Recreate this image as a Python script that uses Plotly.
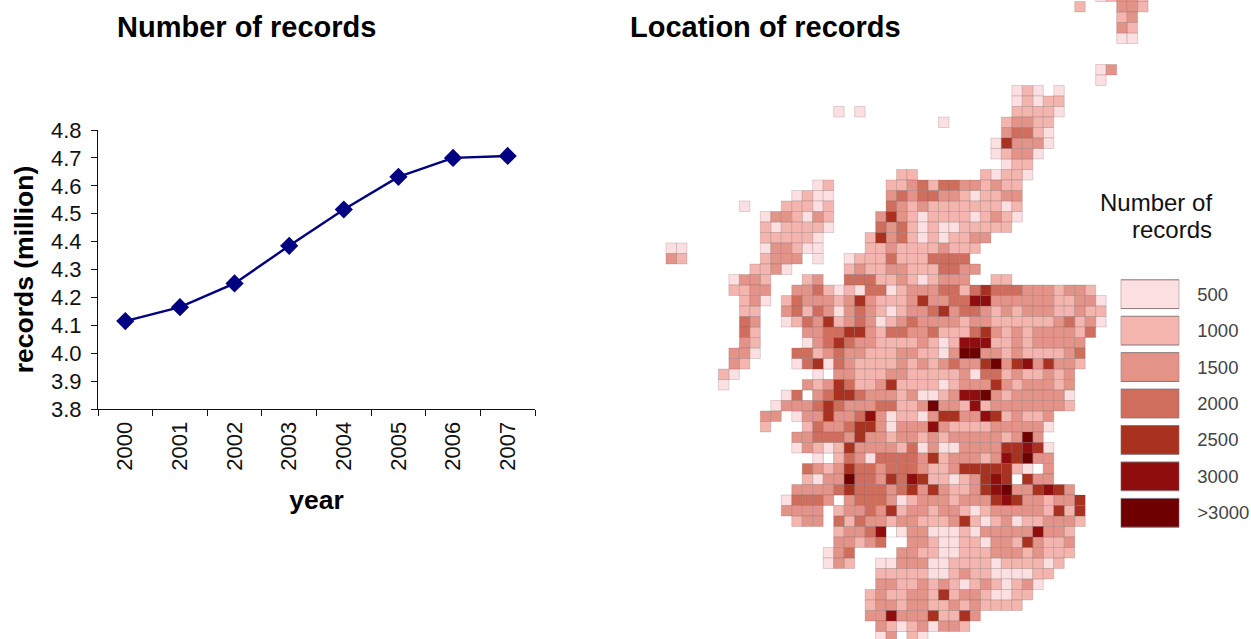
import plotly.graph_objects as go

W, H = 1251, 639
FONT = "Liberation Sans"

years = ["2000", "2001", "2002", "2003", "2004", "2005", "2006", "2007"]
records_million = [4.115, 4.165, 4.25, 4.385, 4.515, 4.632, 4.70, 4.707]

legend_labels = ["500", "1000", "1500", "2000", "2500", "3000", ">3000"]
level_colors = ["#ffffff", "#fcdfe1", "#f3b5ae", "#e39387", "#cf6e5d", "#a8321f", "#900d0e", "#6e0000"]

# (grid row, first grid column, class of each consecutive cell; 0 = white cell)
map_cells = [
    (-1, 41, "12332"), (0, 39, "2"), (0, 43, "332"), (1, 43, "23"), (2, 43, "32"), (3, 43, "11"),
    (6, 41, "13"), (7, 41, "1"), (8, 33, "121"), (8, 37, "1"), (9, 33, "12122"),
    (10, 16, "1"), (10, 18, "1"), (10, 33, "22221"), (11, 26, "1"), (11, 32, "23322"),
    (12, 32, "34421"), (13, 31, "153331"), (14, 31, "12331"), (15, 32, "122"),
    (16, 22, "22"), (16, 30, "21221"),
    (17, 14, "12"), (17, 21, "2234244332322"),
    (18, 12, "1211"), (18, 21, "3434433212233"),
    (19, 7, "1"), (19, 11, "22212"), (19, 21, "4323222222212"),
    (20, 9, "1332132"), (20, 20, "35321222212321"),
    (21, 9, "2122221"), (21, 20, "4342121122222"),
    (22, 9, "222221"), (22, 19, "253421212233"),
    (23, 0, "11"), (23, 9, "133211"), (23, 19, "22322223222"),
    (24, 0, "32"), (24, 9, "2333"), (24, 14, "1"), (24, 17, "122242224444"),
    (25, 8, "2231"), (25, 17, "2322332224433"),
    (26, 6, "1332"), (26, 13, "23"), (26, 17, "444223212333"), (26, 31, "22"),
    (27, 6, "2233"), (27, 12, "33421214412333442454443332332"),
    (28, 7, "231"), (28, 11, "2433323532" "2235334466" "33333322331"),
    (29, 7, "22"), (29, 11, "3424313432" "1233453443" "23233322322"),
    (30, 7, "43"), (30, 11, "1243523431" "2343333233" "22222234231"),
    (31, 7, "42"), (31, 13, "33445532" "4433422245" "3232333324"),
    (32, 7, "32"), (32, 13, "13454332" "2223212666" "223233333"),
    (33, 6, "331"), (33, 12, "442343322" "2332213773" "323222234"),
    (34, 6, "32"), (34, 12, "145143222" "2323234335" "735635332"),
    (35, 5, "21"), (35, 14, "1033222" "3322222314" "42322323"),
    (36, 5, "1"), (36, 13, "32354223" "5222212333" "53233323"),
    (37, 11, "1403455433" "3231123667" "32333331"),
    (38, 10, "13334543334422" "373326233333332"),
    (39, 9, "33"), (39, 12, "1335334631221" "355336523223"),
    (40, 9, "2"), (40, 13, "243345531333" "632222333331"),
    (41, 12, "3344435332332" "32333332373"),
    (42, 12, "1321253333241" "311333355651"),
    (43, 14, "10243144443" "523332365733"),
    (44, 13, "432354434443" "223555552103"),
    (45, 13, "213374435465" "221235650533"),
    (46, 12, "3333454443453" "53223567335653"),
    (47, 11, "14443034443123" "332333565332335"),
    (48, 11, "3333"), (48, 16, "233435233" "233212333332525"),
    (49, 12, "233"), (49, 16, "424332332" "223521231223332"),
    (50, 16, "233460133" "11121333336332"),
    (51, 16, "33234"), (51, 23, "33" "21122133253223"),
    (52, 15, "134"), (52, 22, "332" "21122233323222"),
    (53, 15, "132"), (53, 20, "11333" "1122221222212"),
    (54, 20, "22222" "112322111122"),
    (55, 20, "33223" "23212321231"),
    (56, 19, "232233" "2523321122"),
    (57, 19, "233233" "223232222"),
    (58, 19, "336333" "52253"),
    (59, 20, "32123" "1332"),
    (60, 20, "13021"),
]

fig = go.Figure()

# Line chart
fig.add_trace(go.Scatter(
    x=years, y=records_million, mode="lines+markers", xaxis="x", yaxis="y",
    line=dict(color="#000080", width=2.4),
    marker=dict(symbol="diamond", size=14, color="#000080"),
    showlegend=False, hoverinfo="skip",
))

# Map: one trace per class
for level, color in enumerate(level_colors):
    xs, ys = [], []
    for row, start, digits in map_cells:
        for i, d in enumerate(digits):
            if int(d) == level:
                xs.append(start + i + 0.5)
                ys.append(row + 0.5)
    fig.add_trace(go.Scatter(
        x=xs, y=ys, mode="markers", xaxis="x2", yaxis="y2",
        marker=dict(symbol="square", size=10.5, color=color,
                    line=dict(color="rgba(110,90,100,0.45)", width=0.5)),
        showlegend=False, hoverinfo="skip",
    ))

# Map key
fig.add_trace(go.Bar(
    y=legend_labels, x=[1] * len(legend_labels), orientation="h", width=0.79,
    xaxis="x3", yaxis="y3",
    marker=dict(color=level_colors[1:], line=dict(color="#8a7478", width=1)),
    showlegend=False, hoverinfo="skip",
))

tick_font = dict(family=FONT, size=22, color="#111111")
title_font = dict(family=FONT, size=26.5, color="#000000", weight="bold")


def xp(px):
    return px / W


def yp(py):
    return 1 - py / H


layout = dict(
    width=W, height=H, margin=dict(l=0, r=0, t=0, b=0, autoexpand=False),
    paper_bgcolor="white", plot_bgcolor="rgba(0,0,0,0)", showlegend=False,
    font=dict(family=FONT),
    xaxis=dict(
        domain=[xp(98), xp(535)], anchor="y", type="category", range=[-0.5, 7.5], automargin=False,
        tickson="boundaries", ticks="outside", ticklen=6, tickcolor="#111111", tickwidth=1,
        showline=True, linecolor="#111111", linewidth=1, showgrid=False, zeroline=False,
        tickangle=-90, tickfont=tick_font, ticklabelstandoff=3,
        title=dict(text="year", font=title_font, standoff=20),
    ),
    yaxis=dict(
        domain=[yp(409), yp(130)], anchor="x", range=[3.8, 4.8], dtick=0.1, tickformat=".1f",
        automargin=False,
        ticks="outside", ticklen=6, tickcolor="#111111", tickwidth=1,
        showline=True, linecolor="#111111", linewidth=1, showgrid=False, zeroline=False,
        tickfont=tick_font, ticklabelstandoff=5,
        title=dict(text="records (million)", font=title_font, standoff=9),
    ),
    xaxis2=dict(domain=[0, 1], anchor="y2", range=[(0 - 666) / 10.48, (W - 666) / 10.48],
                visible=False, automargin=False),
    yaxis2=dict(domain=[0, 1], anchor="x2", range=[(H - 1.5) / 10.5, (0 - 1.5) / 10.5],
                visible=False, automargin=False),
    xaxis3=dict(domain=[xp(1120.7), xp(1179.3)], anchor="y3", range=[0, 1], visible=False,
                automargin=False),
    yaxis3=dict(
        domain=[yp(531), yp(276)], anchor="x3", side="right", type="category", automargin=False,
        autorange="reversed", showline=False, showgrid=False, zeroline=False, ticks="",
        tickfont=dict(family=FONT, size=18.5, color="#444444"), ticklabelstandoff=17,
    ),
    annotations=[
        dict(text="<b>Number of records</b>", x=xp(115), y=yp(27), xref="paper", yref="paper",
             xanchor="left", yanchor="middle", showarrow=False,
             font=dict(family=FONT, size=29, color="#000000")),
        dict(text="<b>Location of records</b>", x=xp(628), y=yp(27), xref="paper", yref="paper",
             xanchor="left", yanchor="middle", showarrow=False,
             font=dict(family=FONT, size=29, color="#000000")),
        dict(text="Number of", x=xp(1098), y=yp(203), xref="paper", yref="paper",
             xanchor="left", yanchor="middle", showarrow=False,
             font=dict(family=FONT, size=24, color="#111111")),
        dict(text="records", x=xp(1214), y=yp(229), xref="paper", yref="paper",
             xanchor="right", yanchor="middle", showarrow=False,
             font=dict(family=FONT, size=24, color="#111111")),
    ],
)
fig.update_layout(**layout)

fig.write_html(
    "out.html",
    config={"displayModeBar": False},
    post_script=(
        "document.documentElement.style.margin='0';"
        "document.body.style.margin='0';"
        "document.body.style.padding='0';"
        "var gd=document.getElementsByClassName('plotly-graph-div')[0];"
        "gd.style.position='fixed';gd.style.left='0';gd.style.top='0';"
    ),
)
